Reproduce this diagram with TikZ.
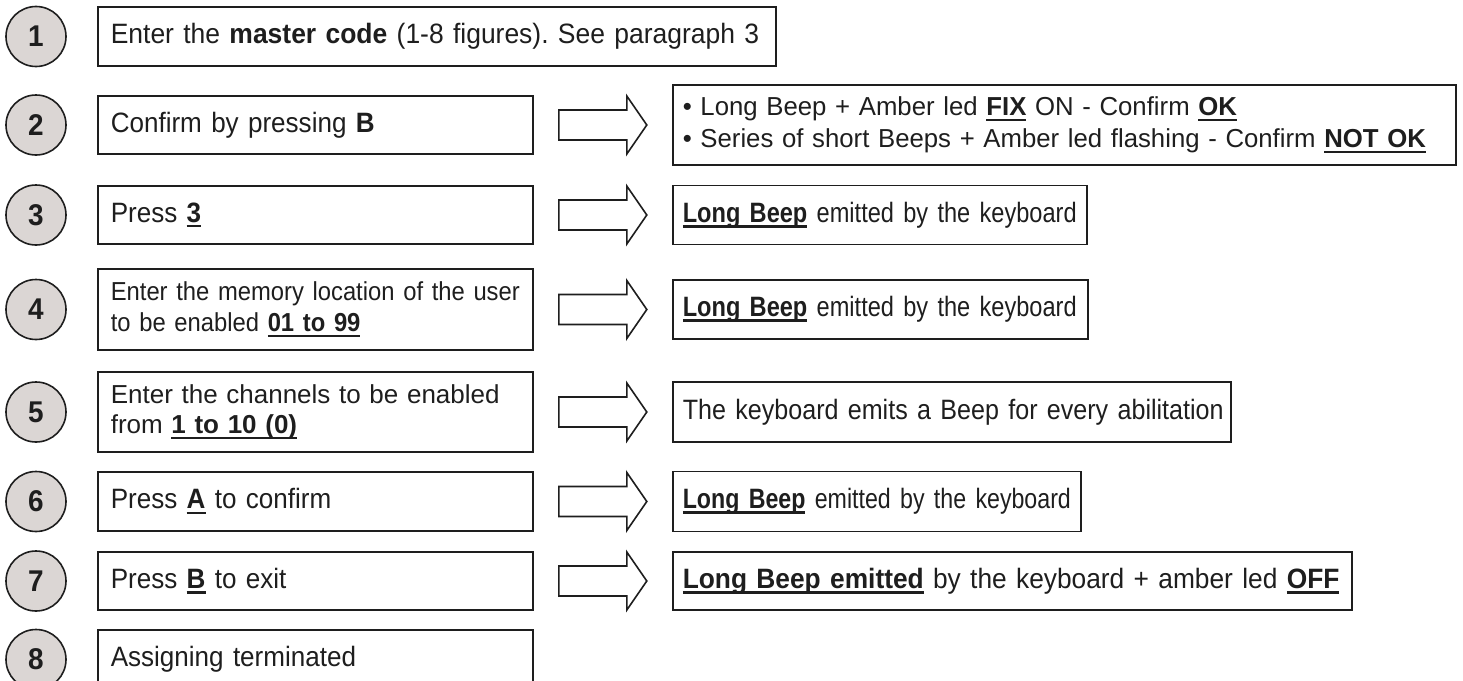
\documentclass[tikz,border=0pt]{standalone}
\usepackage{fontspec}
\usetikzlibrary{calc}
\setmainfont{Liberation Sans}
\newfontfamily\fN[FakeStretch=0.93]{Liberation Sans}
\newfontfamily\fNa[FakeStretch=0.945]{Liberation Sans}
\newfontfamily\fM[FakeStretch=0.915]{Liberation Sans}
\newfontfamily\fR[FakeStretch=0.99]{Liberation Sans}
\newfontfamily\fB[FakeStretch=0.842]{Liberation Sans}
\newfontfamily\fC[FakeStretch=0.896]{Liberation Sans}
\newfontfamily\fD[FakeStretch=0.94]{Liberation Sans}
\newfontfamily\fE[FakeStretch=0.828]{Liberation Sans}
\definecolor{circfill}{RGB}{219,214,212}
\definecolor{ink}{RGB}{30,30,30}
\newsavebox\ulbox
\newcommand{\ulbf}[1]{\textbf{\sbox\ulbox{#1}\leavevmode\rlap{\rule[-5.4pt]{\wd\ulbox}{2.6pt}}\usebox\ulbox}}
\frenchspacing
\tikzset{
  num/.style={circle, draw=ink, line width=1.6pt, fill=circfill, minimum size=60pt, inner sep=0pt,
    text=ink, font=\fontsize{30}{34}\fN\bfseries},
  stepbox/.style={rectangle, draw=ink, line width=1.6pt, anchor=west, inner ysep=0pt, align=left,
    text=ink, font=\fontsize{28}{32}\fN},
  lbox/.style={stepbox, minimum width=435pt, inner xsep=13pt, text width=409pt},
  rbox/.style={stepbox, inner xsep=10pt},
  barrow/.style={draw=ink, line width=1.6pt, fill=white, line join=miter},
  pics/blockarrow/.style={code={
    \draw[barrow] (-44,-15) -- (24,-15) -- (24,-29) -- (44,0) -- (24,29) -- (24,15) -- (-44,15) -- cycle;}}
}
\begin{document}
\begin{tikzpicture}[x=1pt,y=-1pt]
\useasboundingbox (0,0) rectangle (1463,680);
% numbered circles
\node[num] (n1) at (36,36.5) {1};
\node[num] (n2) at (36,125) {2};
\node[num] (n3) at (36,215) {3};
\node[num] (n4) at (36,309.5) {4};
\node[num] (n5) at (36,412) {5};
\node[num] (n6) at (36,501.5) {6};
\node[num] (n7) at (36,581) {7};
\node[num] (n8) at (36,659.5) {8};
% left boxes
\node[lbox, minimum width=678pt, text width=652pt, minimum height=59pt, font=\fontsize{28}{32}\fNa] (l1) at (97,36.5)
  {\mbox{Enter the \textbf{master code} (1-8 figures). See paragraph 3}};
\node[lbox, minimum height=58pt] (l2) at (97,125) {\mbox{Confirm by pressing \textbf{B}}};
\node[lbox, minimum height=58pt] (l3) at (97,215) {\mbox{Press \ulbf{3}}};
\node[lbox, minimum height=81pt, font=\fontsize{26}{31}\fM] (l4) at (97,309.5)
  {\mbox{Enter the memory location of the user}\\\mbox{to be enabled \ulbf{01 to 99}}};
\node[lbox, minimum height=80pt, font=\fontsize{26}{30}\selectfont] (l5) at (97,412)
  {\mbox{Enter the channels to be enabled}\\\mbox{from \ulbf{1 to 10 (0)}}};
\node[lbox, minimum height=59pt] (l6) at (97,501.5) {\mbox{Press \ulbf{A} to confirm}};
\node[lbox, minimum height=58pt] (l7) at (97,581) {\mbox{Press \ulbf{B} to exit}};
\node[lbox, minimum height=59pt] (l8) at (97,659.5) {\mbox{Assigning terminated}};
% right boxes
\node[rbox, minimum width=783pt, text width=763pt, minimum height=80pt, font=\fontsize{26}{32}\fR] (r2) at (672,125)
  {\mbox{• Long Beep + Amber led \ulbf{FIX} ON - Confirm \ulbf{OK}}\\
   \mbox{• Series of short Beeps + Amber led flashing - Confirm \ulbf{NOT OK}}};
\node[rbox, minimum width=414pt, text width=394pt, minimum height=59pt, font=\fontsize{28}{32}\fB] (r3) at (672,215)
  {\mbox{\ulbf{Long Beep} emitted by the keyboard}};
\node[rbox, minimum width=415pt, text width=395pt, minimum height=59pt, font=\fontsize{28}{32}\fB] (r4) at (672,309.5)
  {\mbox{\ulbf{Long Beep} emitted by the keyboard}};
\node[rbox, minimum width=558pt, text width=538pt, minimum height=60pt, font=\fontsize{28}{32}\fC] (r5) at (672,412)
  {\mbox{The keyboard emits a Beep for every abilitation}};
\node[rbox, minimum width=408pt, text width=388pt, minimum height=60pt, font=\fontsize{28}{32}\fE] (r6) at (672,501.5)
  {\mbox{\ulbf{Long Beep} emitted by the keyboard}};
\node[rbox, minimum width=679pt, text width=659pt, minimum height=58pt, font=\fontsize{28}{32}\fD] (r7) at (672,581)
  {\mbox{\ulbf{Long Beep emitted} by the keyboard + amber led \ulbf{OFF}}};
% block arrows
\foreach \i in {2,...,7}{
  \pic at ($(l\i.east)!0.5!(r\i.west)$) {blockarrow};
}
\end{tikzpicture}
\end{document}
